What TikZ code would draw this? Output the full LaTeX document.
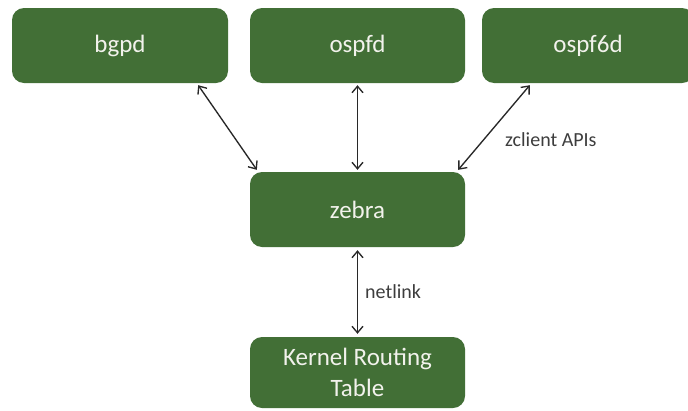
\documentclass[tikz,border=0pt]{standalone}
\usepackage{fontspec}
\setmainfont{Carlito}
\usetikzlibrary{arrows.meta}
\definecolor{boxgreen}{RGB}{66,111,54}
\definecolor{boxtext}{RGB}{242,242,236}
\definecolor{linegray}{RGB}{40,40,40}
\tikzset{
  daemon/.style={fill=boxgreen, rounded corners=12pt, text=boxtext,
    font=\fontsize{25}{31}\selectfont, align=center, inner sep=0pt},
  link/.style={draw=linegray, line width=1.35pt,
    {Straight Barb[length=6.5pt,width=11pt]}-{Straight Barb[length=6.5pt,width=11pt]}},
  note/.style={text=linegray!90, font=\fontsize{20}{24}\selectfont, inner sep=0pt, anchor=west}
}
\begin{document}
\begin{tikzpicture}[x=1pt,y=-1pt]
  \useasboundingbox (0,0) rectangle (688,410);
  \begin{scope}
    \clip (0,0) rectangle (688,410);
    \node[daemon, minimum width=216pt, minimum height=75pt] (bgpd) at (120,45.5) {bgpd};
    \node[daemon, minimum width=215pt, minimum height=75pt] (ospfd) at (357.5,45.5) {ospfd};
    \node[daemon, minimum width=212pt, minimum height=75pt] (ospf6d) at (588,45.5) {ospf6d};
    \node[daemon, minimum width=215pt, minimum height=75pt] (zebra) at (357.5,209.5) {zebra};
    \node[daemon, minimum width=215pt, minimum height=71pt] (kernel) at (357.5,372.5) {Kernel Routing\\Table};
  \end{scope}

  \draw[link] ([xshift=-30pt,yshift=-2pt]bgpd.south east) -- ([xshift=7pt,yshift=2pt]zebra.north west);
  \draw[link] ([yshift=-2pt]ospfd.south) -- ([yshift=2pt]zebra.north);
  \draw[link] ([xshift=48pt,yshift=-2pt]ospf6d.south west) -- ([xshift=-7pt,yshift=2pt]zebra.north east);
  \draw[link] ([yshift=-3pt]zebra.south) -- ([yshift=3pt]kernel.north);

  \node[note] (zapi) at (505,140) {zclient APIs};
  \node[note] (nl) at (365,292) {netlink};
\end{tikzpicture}
\end{document}
